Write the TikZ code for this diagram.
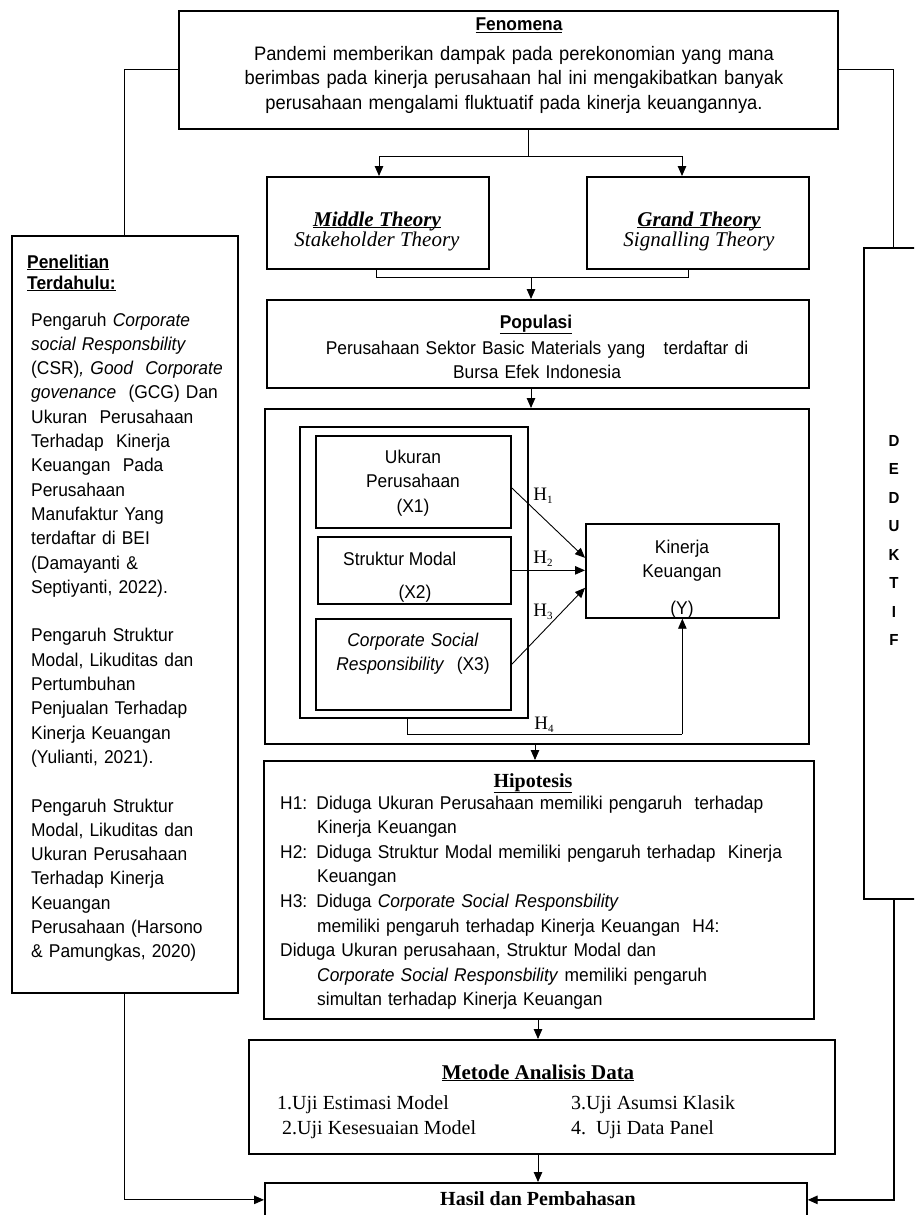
\documentclass[tikz,border=0pt]{standalone}
\usepackage{fontspec}
\setmainfont{Liberation Serif}
\setsansfont[FakeStretch=0.94]{Liberation Sans}
\usetikzlibrary{arrows.meta}
\newcommand\ulsm[1]{\underline{\smash{#1}}}
\begin{document}
\begin{tikzpicture}[x=1pt,y=-1pt,
  frame/.style={draw=black,line width=1.7pt,inner sep=0pt,anchor=north west},
  conn/.style={draw=black,line width=0.9pt},
  arr/.style={conn,-{Triangle[length=10pt,width=8.5pt]}},
  sans/.style={inner sep=0pt,font=\sffamily\fontsize{18.5}{24.5}\selectfont},
  txtL/.style={sans,anchor=base west,align=left},
  txtC/.style={sans,anchor=base,align=center},
  serifC/.style={inner sep=0pt,anchor=base,font=\rmfamily\fontsize{20}{24}\selectfont},
  serifL/.style={inner sep=0pt,anchor=base west,font=\rmfamily\fontsize{20}{24}\selectfont},
  hlab/.style={inner sep=0pt,anchor=center,font=\rmfamily\fontsize{19}{20}\selectfont}
]
\clip (0,0) rectangle (914,1215);
\useasboundingbox (0,0) rectangle (914,1215);
\fill[white] (0,0) rectangle (914,1215);

% ---------- frames ----------
\node[frame,minimum width=659pt,minimum height=118pt] (fen) at (178,10) {};
\node[frame,minimum width=222pt,minimum height=92pt] (mid) at (266,176) {};
\node[frame,minimum width=222pt,minimum height=92pt] (grand) at (586,176) {};
\node[frame,minimum width=542pt,minimum height=88pt] (pop) at (266,299) {};
\node[frame,minimum width=544pt,minimum height=335pt] (model) at (264,408) {};
\node[frame,minimum width=228pt,minimum height=291pt] (grp) at (299,426) {};
\node[frame,minimum width=195pt,minimum height=92pt] (uk) at (315,435) {};
\node[frame,minimum width=193pt,minimum height=67pt] (st) at (317,536) {};
\node[frame,minimum width=195pt,minimum height=91pt] (csr) at (315,618) {};
\node[frame,minimum width=193pt,minimum height=94pt] (kin) at (585,523) {};
\node[frame,minimum width=550pt,minimum height=258pt] (hip) at (263,760) {};
\node[frame,minimum width=586pt,minimum height=114pt] (met) at (248,1039) {};
\node[frame,minimum width=542pt,minimum height=34pt] (has) at (264,1182) {};
\node[frame,minimum width=226pt,minimum height=757pt] (lit) at (11,235) {};
\node[frame,minimum width=60pt,minimum height=651pt] (ded) at (863,247) {};

% ---------- texts ----------
\node[sans,anchor=base,font=\sffamily\bfseries\fontsize{18.5}{20}\selectfont] (fenT) at (519,31) {\underline{Fenomena}};
\node[txtC,text width=640pt,font=\sffamily\fontsize{19.5}{24}\selectfont] (fenB) at (514,61)
 {Pandemi memberikan dampak pada perekonomian yang mana\\
  berimbas pada kinerja perusahaan hal ini mengakibatkan banyak\\
  perusahaan mengalami fluktuatif pada kinerja keuangannya.};

\node[serifC,font=\rmfamily\bfseries\itshape\fontsize{21}{22}\selectfont] (midT) at (377,226) {\ulsm{Middle Theory}};
\node[serifC,font=\rmfamily\itshape\fontsize{21}{22}\selectfont] (midS) at (377,246) {Stakeholder Theory};
\node[serifC,font=\rmfamily\bfseries\itshape\fontsize{21}{22}\selectfont] (grT) at (699,226) {\ulsm{Grand Theory}};
\node[serifC,font=\rmfamily\itshape\fontsize{21}{22}\selectfont] (grS) at (699,246) {Signalling Theory};

\node[sans,anchor=base,font=\sffamily\bfseries\fontsize{18.5}{20}\selectfont] (popT) at (536,328) {\underline{Populasi}};
\node[txtC,text width=520pt] (popB) at (537,354)
 {Perusahaan Sektor Basic Materials yang\ \ \ terdaftar di\\ Bursa Efek Indonesia};

\node[txtC,text width=180pt] (ukT) at (413,463) {Ukuran\\ Perusahaan\\ (X1)};
\node[txtL] (stT) at (343,565) {Struktur Modal};
\node[txtC] (stX) at (415,598) {(X2)};
\node[txtC,text width=190pt] (csrT) at (413,646) {\textit{Corporate Social}\\ \textit{Responsibility}\ \ (X3)};
\node[txtC,text width=180pt] (kinT) at (682,553) {Kinerja\\ Keuangan};
\node[txtC] (kinY) at (682,614) {(Y)};

\node[hlab] (h1) at (543,496) {H\raisebox{-3pt}{\fontsize{11}{11}\selectfont 1}};
\node[hlab] (h2) at (543,559) {H\raisebox{-3pt}{\fontsize{11}{11}\selectfont 2}};
\node[hlab] (h3) at (543,612) {H\raisebox{-3pt}{\fontsize{11}{11}\selectfont 3}};
\node[hlab] (h4l) at (544,725) {H\raisebox{-3pt}{\fontsize{11}{11}\selectfont 4}};

\node[serifC,font=\rmfamily\bfseries\fontsize{20}{24}\selectfont] (hipT) at (533,787) {\underline{Hipotesis}};
\node[txtL,text width=525pt,font=\sffamily\fontsize{18.5}{24.6}\selectfont] (hipB) at (280,809)
 {H1: Diduga Ukuran Perusahaan memiliki pengaruh\ \ terhadap\\
  \hspace*{37pt}Kinerja Keuangan\\
  H2: Diduga Struktur Modal memiliki pengaruh terhadap\ \ Kinerja\\
  \hspace*{37pt}Keuangan\\
  H3: Diduga \textit{Corporate Social Responsbility}\\
  \hspace*{37pt}memiliki pengaruh terhadap Kinerja Keuangan\ \ H4:\\
  Diduga Ukuran perusahaan, Struktur Modal dan\\
  \hspace*{37pt}\textit{Corporate Social Responsbility} memiliki pengaruh\\
  \hspace*{37pt}simultan terhadap Kinerja Keuangan};

\node[serifC,font=\rmfamily\bfseries\fontsize{21}{24}\selectfont] (metT) at (538,1079) {\underline{Metode Analisis Data}};
\node[serifL] (m1) at (277,1109) {1.Uji Estimasi Model};
\node[serifL] (m2) at (282,1134) {2.Uji Kesesuaian Model};
\node[serifL] (m3) at (571,1109) {3.Uji Asumsi Klasik};
\node[serifL] (m4) at (571,1134) {4.\ \ Uji Data Panel};

\node[serifC,font=\rmfamily\bfseries\fontsize{20}{24}\selectfont] (hasT) at (538,1205) {Hasil dan Pembahasan};

\node[txtL,text width=200pt,font=\sffamily\bfseries\fontsize{18.5}{21}\selectfont] (litT) at (27,268)
 {\underline{Penelitian}\\ \underline{Terdahulu:}};
\node[txtL,text width=205pt,font=\sffamily\fontsize{18.5}{24.3}\selectfont] (litB) at (31,326)
 {Pengaruh \textit{Corporate}\\
  \textit{social Responsbility}\\
  (CSR)\textit{, Good\ \ Corporate}\\
  \textit{govenance}\ \ (GCG) Dan\\
  Ukuran\ \ Perusahaan\\
  Terhadap\ \ Kinerja\\
  Keuangan\ \ Pada\\
  Perusahaan\\
  Manufaktur Yang\\
  terdaftar di BEI\\
  (Damayanti \&\\
  Septiyanti, 2022).\\[24.3pt]
  Pengaruh Struktur\\
  Modal, Likuditas dan\\
  Pertumbuhan\\
  Penjualan Terhadap\\
  Kinerja Keuangan\\
  (Yulianti, 2021).\\[24.3pt]
  Pengaruh Struktur\\
  Modal, Likuditas dan\\
  Ukuran Perusahaan\\
  Terhadap Kinerja\\
  Keuangan\\
  Perusahaan (Harsono\\
  \& Pamungkas, 2020)};

\node[txtC,text width=20pt,font=\sffamily\bfseries\fontsize{16}{28.5}\selectfont] (dedT) at (894,446)
 {D\\E\\D\\U\\K\\T\\I\\F};

% ---------- connectors ----------
\coordinate (fsplit) at (528,156);
\coordinate (fL) at (379,156);
\coordinate (fR) at (682,156);
\draw[conn] (fen.south -| fsplit) -- (fsplit);
\draw[conn] (fL) -- (fR);
\draw[arr] (fL) -- (fL |- mid.north);
\draw[arr] (fR) -- (fR |- grand.north);

\coordinate (tL) at (376,277);
\coordinate (tR) at (688,277);
\coordinate (tM) at (531,277);
\draw[conn] (tL |- mid.south) -- (tL) -- (tR) -- (tR |- grand.south);
\draw[arr] (tM) -- (tM |- pop.north);
\draw[arr] (pop.south -| tM) -- (model.north -| tM);

\draw[arr] ([yshift=-6pt]uk.east) -- ([yshift=13pt]kin.west);
\draw[arr] (st.east) -- (st.east -| kin.west);
\draw[arr] (csr.east) -- ([yshift=-17pt]kin.west);
\coordinate (h4) at (407,734);
\draw[conn] (grp.south -| h4) -- (h4) -- (h4 -| kin.south);
\draw[arr] (h4 -| kin.south) -- (kin.south);

\coordinate (mh) at (535,750);
\coordinate (hm) at (538,1030);
\draw[arr] (model.south -| mh) -- (hip.north -| mh);
\draw[arr] (hip.south -| hm) -- (met.north -| hm);
\draw[arr] (met.south -| hm) -- (has.north -| hm);

\draw[conn] (fen.west) -- (fen.west -| lit.north) -- (lit.north);
\draw[arr] (lit.south) -- (lit.south |- has.west) -- (has.west);
\draw[conn] (fen.east) -- (fen.east -| ded.north) -- (ded.north);
\draw[arr,line width=1.4pt] (ded.south) -- (ded.south |- has.east) -- (has.east);
\end{tikzpicture}
\end{document}
